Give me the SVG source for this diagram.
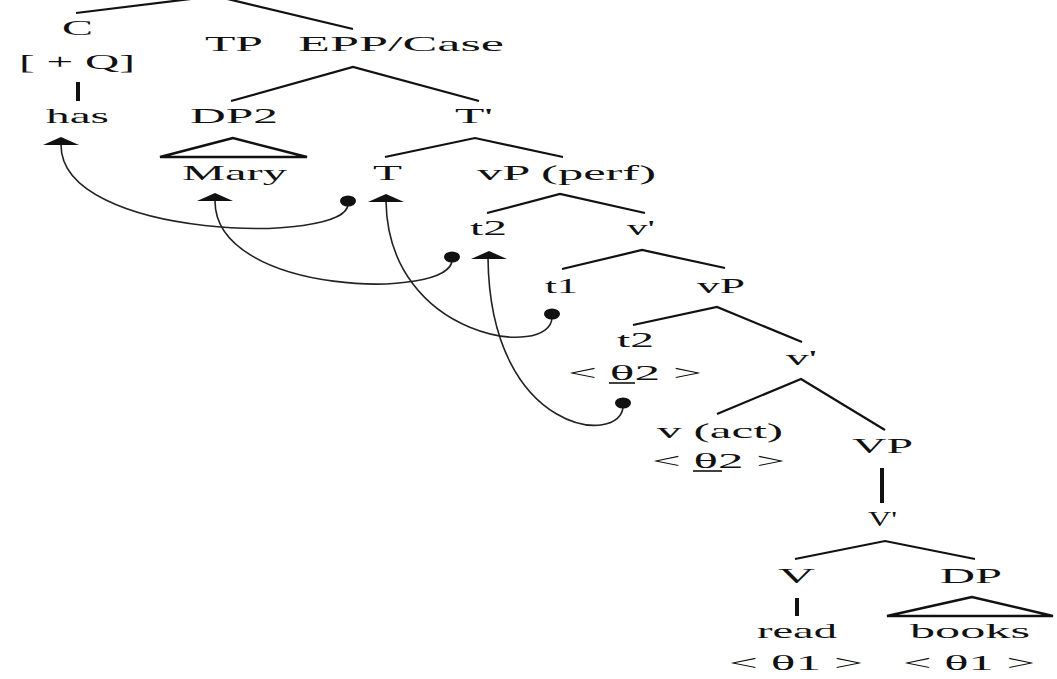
<svg xmlns="http://www.w3.org/2000/svg" xmlns:xlink="http://www.w3.org/1999/xlink" width="1057" height="679" viewBox="0 0 1057 679">
<style>
text{font-family:"Liberation Serif","Times New Roman",serif;font-size:22px;fill:#111}
.br{fill:none;stroke:#111;stroke-width:2.2;stroke-linejoin:miter}
.bar{stroke:#111;stroke-width:4}
.tri{fill:none;stroke:#111;stroke-width:2.4;stroke-linejoin:miter}
.arc{fill:none;stroke:#222;stroke-width:1.6}
.ul{stroke:#111;stroke-width:1.6}
.head{fill:#111}
</style>
<defs>
<polygon id="ah" points="0,0 -18,8 18,8"/>
<ellipse id="dot" rx="8" ry="5.5"/>
</defs>
<rect width="1057" height="679" fill="#fff"/>

<g id="connectors">
  <g id="branches">
    <polyline class="br" points="76,13 215,-4 353,29"/>
    <polyline class="br" points="231,101 353,67 479,101"/>
    <line class="bar" x1="78" y1="82" x2="78" y2="101"/>
    <polyline class="br" points="385,157 475,138 563,157"/>
    <polyline class="br" points="487,213 560,194 645,213"/>
    <polyline class="br" points="562,269 642,250 725,268"/>
    <polyline class="br" points="633,325 717,307 802,342"/>
    <polyline class="br" points="717,414 801,379 885,430"/>
    <line class="bar" x1="882" y1="468" x2="882" y2="503"/>
    <polyline class="br" points="795,559 885,541 975,559"/>
    <line class="bar" x1="797" y1="598" x2="797" y2="616"/>
  </g>
  <g id="movement">
    <path class="arc" d="M61,145 C61,240 348,245 348,204"/>
    <path class="arc" d="M215,201 C215,296 452,300 452,260"/>
    <path class="arc" d="M386,201 C388,340 552,360 552,317"/>
    <path class="arc" d="M488,258 C490,436 623,446 623,406"/>
    <use href="#ah" class="head" x="61" y="137"/>
    <use href="#ah" class="head" x="215" y="193"/>
    <use href="#ah" class="head" x="386" y="194"/>
    <use href="#ah" class="head" x="489" y="251"/>
    <use href="#dot" class="head" x="348" y="201"/>
    <use href="#dot" class="head" x="452" y="257"/>
    <use href="#dot" class="head" x="552" y="314"/>
    <use href="#dot" class="head" x="623" y="403"/>
  </g>
</g>

<g id="node-C">
  <text x="62" y="35" textLength="31" lengthAdjust="spacingAndGlyphs">C</text>
  <text x="19" y="69" textLength="116" lengthAdjust="spacingAndGlyphs">[ + Q]</text>
</g>
<g id="node-has"><text x="46" y="123" textLength="63" lengthAdjust="spacingAndGlyphs">has</text></g>
<g id="node-TP">
  <text x="205" y="51" textLength="58" lengthAdjust="spacingAndGlyphs">TP</text>
  <text x="298" y="51" textLength="206" lengthAdjust="spacingAndGlyphs">EPP/Case</text>
</g>
<g id="node-DP2">
  <text x="190" y="123" textLength="88" lengthAdjust="spacingAndGlyphs">DP2</text>
  <polygon class="tri" points="233,138 160,157 307,157"/>
</g>
<g id="node-Tbar"><text x="455" y="123" textLength="38" lengthAdjust="spacingAndGlyphs">T'</text></g>
<g id="node-Mary"><text x="182" y="180" textLength="105" lengthAdjust="spacingAndGlyphs">Mary</text></g>
<g id="node-T"><text x="373" y="180" textLength="29" lengthAdjust="spacingAndGlyphs">T</text></g>
<g id="node-vP-perf"><text x="477" y="180" textLength="179" lengthAdjust="spacingAndGlyphs">vP (perf)</text></g>
<g id="node-t2-a"><text x="470" y="235" textLength="37" lengthAdjust="spacingAndGlyphs">t2</text></g>
<g id="node-vbar-a"><text x="627" y="235" textLength="28" lengthAdjust="spacingAndGlyphs">v'</text></g>
<g id="node-t1"><text x="545" y="293" textLength="33" lengthAdjust="spacingAndGlyphs">t1</text></g>
<g id="node-vP"><text x="697" y="293" textLength="48" lengthAdjust="spacingAndGlyphs">vP</text></g>
<g id="node-t2-b">
  <text x="617" y="347" textLength="37" lengthAdjust="spacingAndGlyphs">t2</text>
  <text x="568" y="380" textLength="134" lengthAdjust="spacingAndGlyphs">&lt; θ2 &gt;</text>
  <line class="ul" x1="609" y1="383" x2="635" y2="383"/>
</g>
<g id="node-vbar-b"><text x="786" y="365" textLength="31" lengthAdjust="spacingAndGlyphs">v'</text></g>
<g id="node-v-act">
  <text x="657" y="438" textLength="126" lengthAdjust="spacingAndGlyphs">v (act)</text>
  <text x="652" y="468" textLength="133" lengthAdjust="spacingAndGlyphs">&lt; θ2 &gt;</text>
  <line class="ul" x1="693" y1="471" x2="722" y2="471"/>
</g>
<g id="node-VP"><text x="852" y="453" textLength="61" lengthAdjust="spacingAndGlyphs">VP</text></g>
<g id="node-Vbar"><text x="868" y="526" textLength="29" lengthAdjust="spacingAndGlyphs">V'</text></g>
<g id="node-V"><text x="778" y="583" textLength="37" lengthAdjust="spacingAndGlyphs">V</text></g>
<g id="node-DP">
  <text x="940" y="583" textLength="62" lengthAdjust="spacingAndGlyphs">DP</text>
  <polygon class="tri" points="972,597 887,616 1053,616"/>
</g>
<g id="node-read">
  <text x="757" y="638" textLength="80" lengthAdjust="spacingAndGlyphs">read</text>
  <text x="729" y="670" textLength="134" lengthAdjust="spacingAndGlyphs">&lt; θ1 &gt;</text>
</g>
<g id="node-books">
  <text x="910" y="638" textLength="120" lengthAdjust="spacingAndGlyphs">books</text>
  <text x="903" y="670" textLength="132" lengthAdjust="spacingAndGlyphs">&lt; θ1 &gt;</text>
</g>
</svg>
